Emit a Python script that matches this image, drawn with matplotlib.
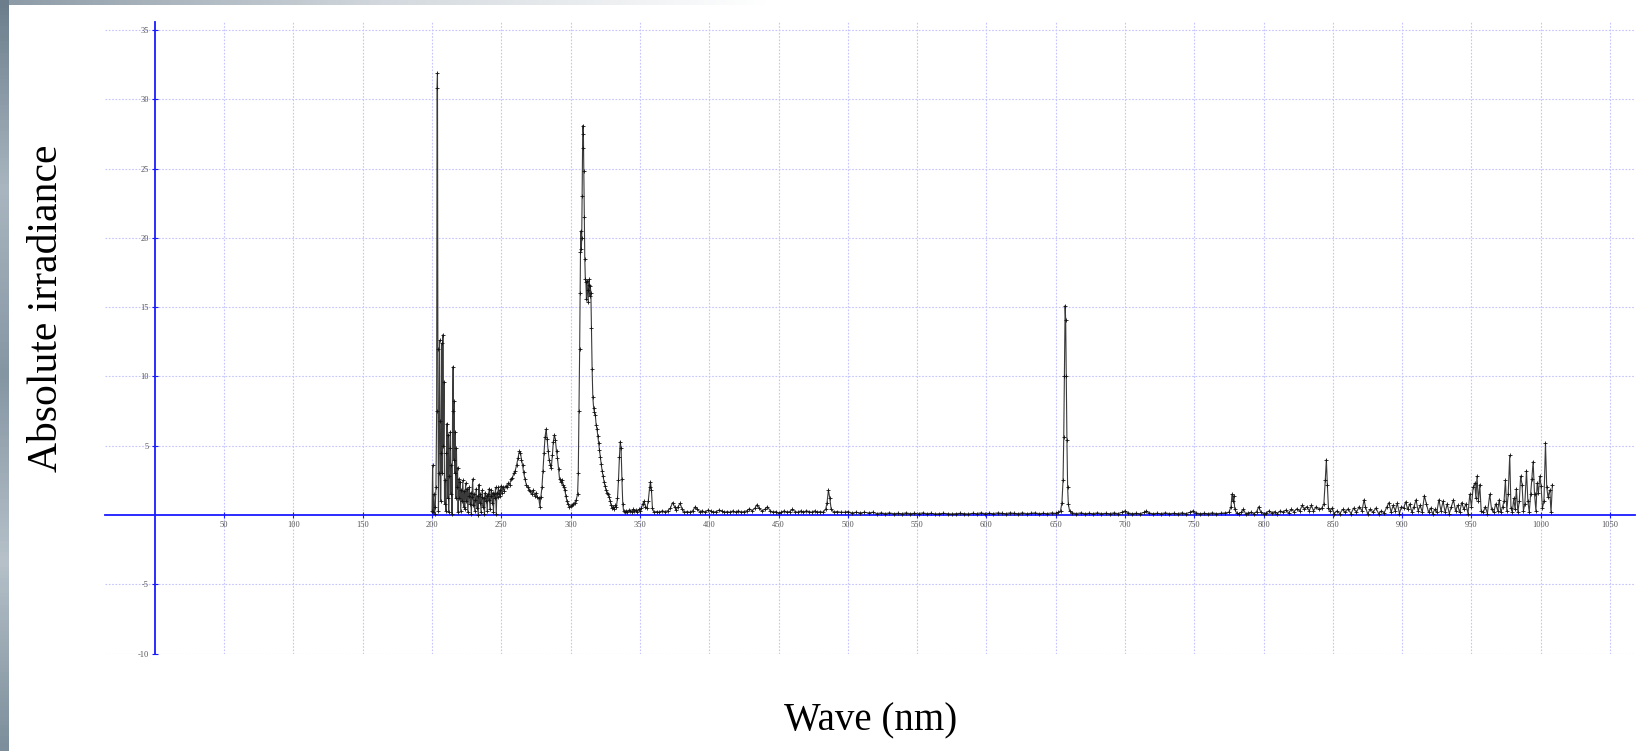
import matplotlib
matplotlib.use("Agg")
import matplotlib.pyplot as plt
import numpy as np

plt.rcParams["axes.unicode_minus"] = False

# ---- data ----
wave = [
 200.0, 200.4, 200.8, 201.3, 201.8, 202.3, 202.8, 203.3, 203.6, 203.9, 204.2, 204.6, 205.0, 205.4, 205.8,
 206.2, 206.6, 207.0, 207.4, 207.8, 208.2, 208.6, 209.0, 209.5, 210.0, 210.4, 210.8, 211.2, 211.6, 212.0,
 212.4, 212.8, 213.2, 213.6, 214.0, 214.4, 214.8, 215.2, 215.6, 216.0, 216.4, 216.8, 217.2, 217.6, 218.0,
 218.4, 218.8, 219.2, 219.7, 220.2, 220.7, 221.2, 221.7, 222.2, 222.7, 223.2, 223.7, 224.2, 224.8, 225.3,
 225.8, 226.3, 226.8, 227.3, 227.8, 228.3, 228.8, 229.3, 229.8, 230.3, 230.8, 231.3, 231.8, 232.3, 232.8,
 233.3, 233.8, 234.3, 234.8, 235.3, 235.8, 236.3, 236.8, 237.3, 237.8, 238.3, 238.8, 239.3, 239.8, 240.3,
 240.8, 241.3, 241.8, 242.3, 242.8, 243.3, 243.8, 244.3, 244.8, 245.3, 245.8, 246.3, 246.8, 247.3, 247.8,
 248.3, 248.8, 249.3, 249.8, 250.3, 251, 252, 253, 254, 255, 256, 257, 258, 259, 260,
 261, 262, 263, 263.8, 264.5, 265.3, 266, 267, 268, 269, 270, 271, 272, 273, 274,
 275, 276, 277, 277.8, 278.5, 279.3, 280, 280.8, 281.5, 282.3, 283, 283.8, 284.5, 285.3, 286,
 286.8, 287.5, 288.3, 289, 289.8, 290.5, 291.3, 292, 292.8, 293.5, 294.3, 295, 295.8, 296.5, 297.3,
 298, 299, 300, 301, 302, 303, 304, 305, 305.5, 306, 306.5, 306.8, 307.1, 307.4, 307.7,
 308.0, 308.3, 308.6, 308.9, 309.2, 309.5, 309.8, 310.2, 310.6, 311.0, 311.4, 311.8, 312.2, 312.6, 313.0,
 313.4, 313.8, 314.2, 314.6, 315.0, 315.5, 316.0, 316.6, 317.2, 317.8, 318.4, 319, 319.6, 320.2, 320.8,
 321.4, 322, 322.7, 323.4, 324.1, 324.8, 325.5, 326.2, 327, 327.8, 328.5, 329.2, 330, 330.8, 331.5,
 332.3, 333, 333.8, 334.5, 335.2, 335.8, 336.4, 337, 337.6, 338.2, 339, 340, 341, 342, 343,
 344, 345, 346, 347, 348, 349, 350, 351, 352, 353, 354, 355, 356, 357, 357.6,
 358.3, 359, 360, 362, 364, 366, 368, 370, 372, 373.5, 375, 376, 377.5, 379, 380.5,
 382, 384, 386, 388, 390, 391.5, 393, 395, 397, 399, 401, 403, 405, 407, 409,
 411, 413, 415, 417, 419, 421, 423, 425, 427, 429, 431, 433, 434.5, 436, 438,
 440, 442, 444, 446, 448, 450, 452, 454, 456, 458, 460, 462, 464, 466, 468,
 470, 472, 474, 476, 478, 480, 482, 484, 485, 486, 487, 488, 490, 492, 495,
 498, 500, 503, 506, 509, 512, 515, 518, 521, 524, 527, 530, 533, 536, 539,
 542, 545, 548, 551, 554, 557, 560, 563, 566, 569, 572, 575, 578, 581, 584,
 587, 590, 593, 596, 599, 602, 605, 608, 611, 614, 617, 620, 623, 626, 629,
 632, 635, 638, 641, 644, 647, 650, 652, 653.5, 654.5, 655.3, 655.8, 656.3, 656.8, 657.2,
 657.6, 658.1, 658.6, 659.1, 660, 662, 665, 668, 671, 674, 677, 680, 683, 686, 689,
 692, 695, 698, 700, 702, 705, 708, 711, 714, 715.5, 717, 720, 723, 726, 729,
 732, 735, 738, 741, 744, 747, 749, 751, 754, 757, 760, 763, 766, 769, 772,
 775, 776.5, 777.2, 777.8, 778.5, 779.2, 780.5, 782, 784, 785.5, 787, 789, 791, 793, 795,
 796.5, 798, 800, 802, 804, 806, 808, 810, 812, 814, 816, 818, 820, 822, 824,
 826, 828, 829.5, 831, 833, 834.5, 836, 838, 840, 842, 843.5, 844.5, 845.3, 846, 846.8,
 848, 849.5, 851, 853, 855, 857, 859, 861, 863, 865, 867, 869, 871, 872.5, 873.5,
 875, 877, 879, 881, 883, 885, 887, 889, 890.5, 892, 893.5, 895, 896.5, 898, 899.5,
 901, 902.5, 904, 905.5, 907, 908.5, 910, 911.5, 913, 914.5, 916, 917.5, 919, 920.5, 922,
 923.5, 925, 926.5, 928, 929.5, 931, 932.5, 934, 935.5, 937, 938.5, 940, 941.5, 943, 944.5,
 946, 947.5, 948.8, 950, 951.2, 952.4, 953.2, 954, 955, 956, 957, 958.5, 960, 961.5, 963.2,
 964.5, 966, 967.5, 969, 970, 971.2, 972.5, 973.5, 974.5, 975.5, 976.5, 977.6, 978.5, 979.5, 980.5,
 981.5, 982.4, 983.5, 984.5, 985.5, 986.5, 987.5, 988.5, 989.7, 990.7, 991.7, 992.7, 993.6, 994.5, 995.5,
 996.5, 997.4, 998.3, 999.3, 1000.2, 1001.2, 1002.3, 1003.4, 1004.3, 1005.2, 1006.5, 1007.4, 1008.4,
]
irradiance = [
 0.3, 3.6, 0.2, 1.5, 0.1, 0.6, 2.0, 7.5, 30.8, 31.9, 12.0, 0.3, 3.0, 12.6, 6.8,
 1.0, 4.5, 12.4, 3.0, 13.0, 5.0, 9.6, 0.8, 2.5, 0.3, 4.5, 6.6, 1.2, 5.8, 0.2,
 2.8, 4.8, 6.0, 1.5, 3.6, 0.1, 7.5, 10.7, 4.0, 8.2, 3.0, 6.0, 1.2, 4.8, 2.0,
 3.4, 0.2, 2.6, 1.2, 2.4, 0.3, 1.8, 1.0, 2.5, 0.6, 1.7, 0.4, 2.3, 1.0, 1.9,
 0.2, 1.4, 2.0, 0.8, 1.6, 0.1, 1.3, 2.6, 0.7, 1.5, 0.3, 1.1, 1.9, 0.5, 1.4,
 0.0, 2.2, 0.9, 1.5, 0.2, 1.3, 1.8, 0.6, 1.2, 0.1, 1.6, 1.0, 1.4, 0.3, 1.5,
 1.1, 1.9, 0.4, 1.4, 1.8, 0.9, 1.6, 0.2, 1.5, 1.2, 2.0, 0.1, 1.6, 1.3, 2.0,
 1.5, 1.8, 1.4, 2.1, 1.6, 2.0, 1.7, 2.1, 2.0, 2.3, 2.2, 2.6, 2.7, 3.0, 3.2,
 3.6, 4.1, 4.6, 4.5, 4.0, 3.6, 3.1, 2.6, 2.2, 2.0, 1.8, 1.7, 1.5, 1.8, 1.4,
 1.6, 1.3, 1.2, 0.6, 1.3, 2.0, 3.2, 4.5, 5.6, 6.2, 5.5, 4.6, 4.0, 3.6, 3.4,
 4.3, 5.3, 5.8, 5.4, 4.6, 4.1, 3.3, 2.6, 2.4, 2.5, 2.2, 2.0, 1.8, 1.4, 1.0,
 0.8, 0.6, 0.65, 0.7, 0.8, 0.9, 1.1, 1.5, 3.0, 7.5, 12.0, 16.0, 19.0, 20.5, 19.2,
 20.0, 23.0, 26.5, 28.1, 27.5, 24.8, 21.5, 18.5, 17.0, 16.8, 15.6, 16.9, 16.2, 15.4, 16.6,
 17.0, 15.8, 16.5, 16.0, 13.5, 10.5, 8.5, 7.7, 7.4, 7.2, 6.5, 6.2, 5.7, 5.2, 4.7,
 4.2, 3.7, 3.2, 2.8, 2.4, 2.1, 1.8, 1.6, 1.5, 1.3, 1.0, 0.7, 0.5, 0.6, 0.4,
 0.7, 0.6, 1.2, 2.5, 4.2, 5.3, 4.8, 2.6, 0.8, 0.3, 0.25, 0.3, 0.2, 0.35, 0.3,
 0.25, 0.4, 0.3, 0.35, 0.2, 0.4, 0.3, 0.5, 0.8, 1.0, 0.6, 0.5, 1.0, 2.0, 2.4,
 1.8, 0.5, 0.2, 0.25, 0.2, 0.3, 0.25, 0.3, 0.5, 0.9, 0.6, 0.35, 0.6, 0.85, 0.4,
 0.2, 0.25, 0.2, 0.3, 0.6, 0.4, 0.25, 0.3, 0.2, 0.35, 0.3, 0.2, 0.25, 0.35, 0.3,
 0.2, 0.25, 0.2, 0.3, 0.2, 0.3, 0.2, 0.25, 0.3, 0.45, 0.3, 0.5, 0.75, 0.5, 0.3,
 0.4, 0.6, 0.3, 0.2, 0.25, 0.15, 0.2, 0.3, 0.2, 0.25, 0.4, 0.25, 0.2, 0.3, 0.2,
 0.3, 0.25, 0.2, 0.3, 0.2, 0.25, 0.2, 0.4, 0.9, 1.8, 1.2, 0.4, 0.2, 0.25, 0.2,
 0.2, 0.25, 0.15, 0.2, 0.15, 0.2, 0.15, 0.2, 0.1, 0.15, 0.1, 0.15, 0.1, 0.12, 0.1,
 0.15, 0.1, 0.12, 0.1, 0.15, 0.1, 0.12, 0.08, 0.1, 0.12, 0.1, 0.08, 0.1, 0.12, 0.1,
 0.08, 0.12, 0.1, 0.15, 0.1, 0.12, 0.1, 0.15, 0.12, 0.1, 0.15, 0.12, 0.1, 0.15, 0.1,
 0.12, 0.15, 0.1, 0.12, 0.1, 0.15, 0.12, 0.2, 0.3, 0.9, 2.5, 5.6, 10.0, 15.1, 14.1,
 10.0, 5.4, 2.0, 0.8, 0.3, 0.15, 0.1, 0.15, 0.1, 0.12, 0.1, 0.15, 0.1, 0.12, 0.1,
 0.15, 0.1, 0.2, 0.3, 0.15, 0.1, 0.12, 0.1, 0.2, 0.3, 0.15, 0.1, 0.12, 0.1, 0.15,
 0.1, 0.12, 0.1, 0.15, 0.1, 0.2, 0.3, 0.15, 0.1, 0.12, 0.1, 0.15, 0.1, 0.12, 0.15,
 0.2, 0.6, 1.5, 1.0, 1.4, 0.4, 0.15, 0.1, 0.2, 0.4, 0.1, 0.15, 0.2, 0.1, 0.25,
 0.6, 0.2, 0.1, 0.15, 0.3, 0.15, 0.25, 0.1, 0.3, 0.2, 0.35, 0.15, 0.4, 0.25, 0.45,
 0.3, 0.7, 0.4, 0.6, 0.3, 0.7, 0.3, 0.6, 0.4, 0.5, 0.8, 2.5, 4.0, 2.2, 0.5,
 0.3, 0.5, 0.1, 0.3, 0.1, 0.4, 0.2, 0.45, 0.1, 0.5, 0.2, 0.6, 0.3, 1.1, 0.6,
 0.1, 0.4, 0.2, 0.5, 0.1, 0.3, 0.15, 0.6, 0.9, 0.2, 0.7, 0.3, 0.85, 0.1, 0.6,
 0.5, 0.95, 0.4, 0.8, 0.2, 0.6, 1.1, 0.3, 0.7, 0.2, 1.4, 0.8, 0.2, 0.5, 0.1,
 0.4, 0.2, 1.1, 0.3, 1.0, 0.2, 0.8, 0.1, 0.6, 1.1, 0.3, 0.7, 0.2, 0.9, 0.4,
 0.8, 0.1, 1.5, 0.6, 2.0, 2.3, 1.2, 2.8, 1.0, 2.2, 0.3, 0.2, 0.6, 0.1, 1.5,
 0.4, 0.2, 0.8, 0.3, 1.1, 0.2, 0.6, 1.0, 2.5, 0.3, 1.5, 4.3, 0.5, 0.2, 1.2,
 0.4, 1.9, 0.2, 1.0, 2.8, 2.2, 0.3, 0.8, 3.2, 1.0, 0.2, 1.5, 2.6, 3.85, 1.5,
 0.3, 2.3, 1.6, 2.8, 2.1, 0.5, 1.0, 5.2, 2.0, 1.3, 1.8, 0.2, 2.2,
]
x_ticks = [50, 100, 150, 200, 250, 300, 350, 400, 450, 500, 550, 600, 650, 700, 750,
           800, 850, 900, 950, 1000, 1050]
y_ticks = [-10, -5, 5, 10, 15, 20, 25, 30, 35]
x_label = "Wave (nm)"
y_label = "Absolute irradiance"

W, H, DPI = 1638, 751, 100
fig = plt.figure(figsize=(W / DPI, H / DPI), dpi=DPI)
fig.patch.set_facecolor("white")

# slide decoration: left strip and top strip
deco_left = fig.add_axes([0, 0, 9 / W, 1])
grad = np.linspace(0, 1, 200).reshape(-1, 1)
deco_left.imshow(grad, aspect="auto", cmap=matplotlib.colors.LinearSegmentedColormap.from_list(
    "l", ["#6c7e8c", "#a9b6c0", "#8596a3", "#b6c1c9", "#7c8e9b"]), extent=[0, 1, 0, 1])
deco_left.axis("off")
deco_top = fig.add_axes([9 / W, 1 - 5 / H, 760 / W, 5 / H])
gradh = np.linspace(0, 1, 200).reshape(1, -1)
deco_top.imshow(gradh, aspect="auto", cmap=matplotlib.colors.LinearSegmentedColormap.from_list(
    "t", ["#8e9ca7", "#d3d9de", "#ffffff"]), extent=[0, 1, 0, 1])
deco_top.axis("off")

# main axes: pixel box 105..1635 (x) and 21.6..653.6 (y)
left, right, top, bottom = 105, 1635, 21.6, 653.6
ax = fig.add_axes([left / W, 1 - bottom / H, (right - left) / W, (bottom - top) / H])
ax.set_xlim(-36, 1068)
ax.set_ylim(-10, 35.6)

ax.plot(wave, irradiance, color="#3a3a3a", lw=0.8, marker="+", ms=3, mew=0.6,
        mec="#111111", zorder=3)

for s in ["top", "right"]:
    ax.spines[s].set_visible(False)
for s in ["left", "bottom"]:
    ax.spines[s].set_position(("data", 0))
    ax.spines[s].set_color("#1a1aff")
    ax.spines[s].set_linewidth(1.3)
    ax.spines[s].set_zorder(2.5)

ax.set_xticks(x_ticks)
ax.set_yticks(y_ticks)
ax.tick_params(axis="both", direction="inout", length=5, width=0.8, color="#1a1aff",
               labelsize=6, labelcolor="#555555", pad=2)
for lab in ax.get_xticklabels() + ax.get_yticklabels():
    lab.set_family("Liberation Serif")
ax.grid(True, color="#c4c4ff", lw=0.8, linestyle=(0, (1.5, 1.5)))
ax.set_axisbelow(True)

fig.text(47 / W, 1 - 308 / H, y_label, rotation=90, ha="center", va="center",
         family="Liberation Serif", fontsize=30, color="black")
fig.text(871 / W, 1 - 721 / H, x_label, ha="center", va="center",
         family="Liberation Serif", fontsize=28, color="black")

fig.savefig("out.png", dpi=DPI)
